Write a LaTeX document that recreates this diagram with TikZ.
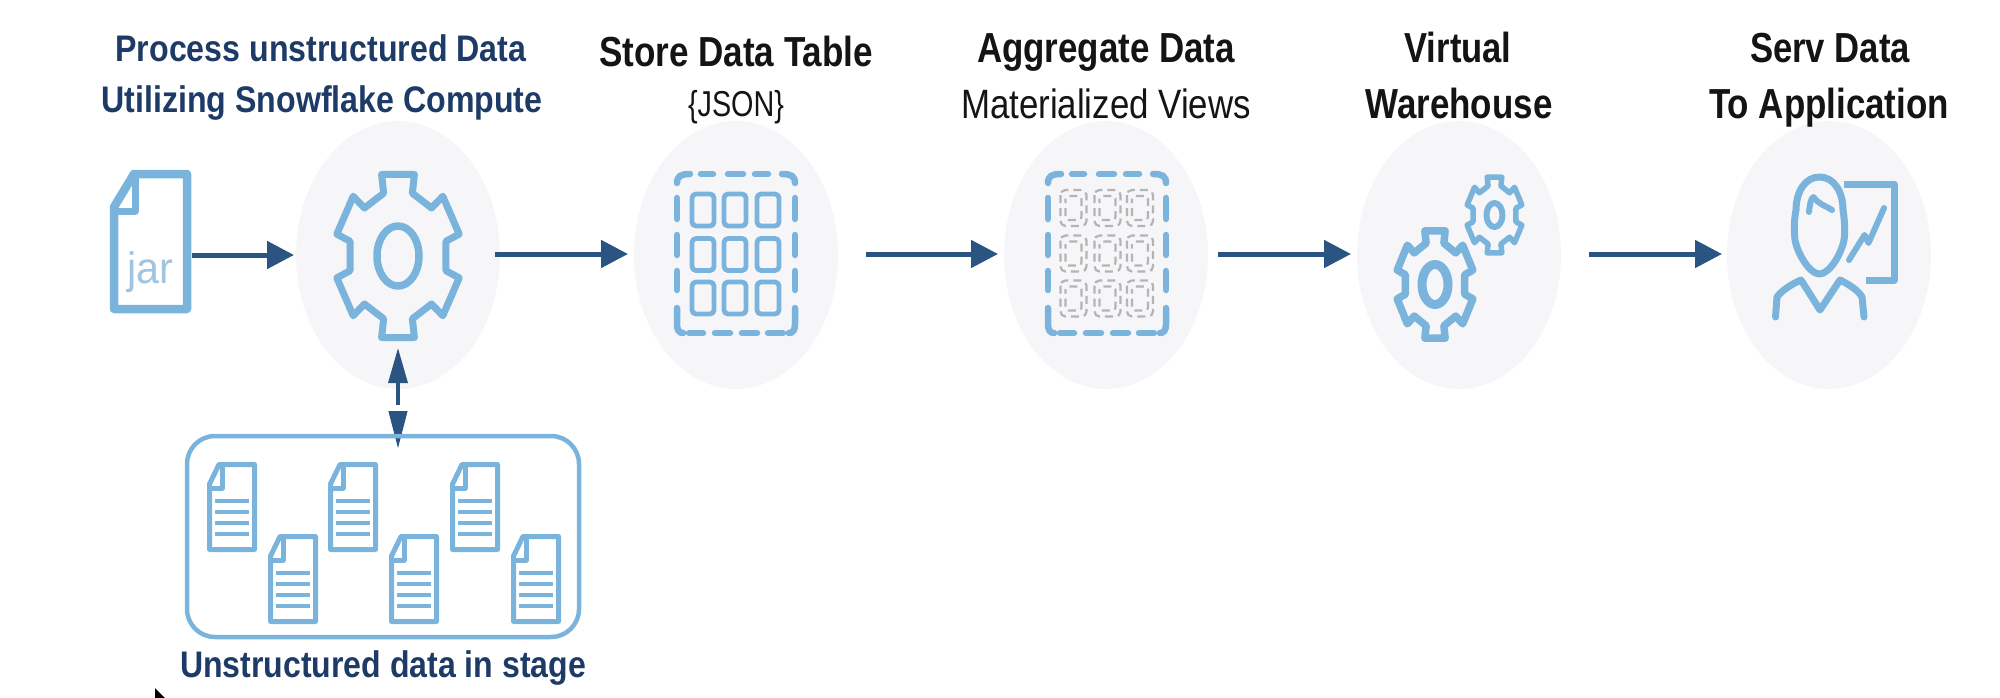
\documentclass[tikz,border=0pt]{standalone}
\usepackage{fontspec}
\usepackage{graphicx}
\usetikzlibrary{shapes.geometric,arrows.meta}
\setmainfont{Liberation Sans}
\definecolor{blobc}{HTML}{F6F6F8}
\definecolor{iconc}{HTML}{7AB4DC}
\definecolor{arrowc}{HTML}{2A5481}
\definecolor{navy}{HTML}{1D3B66}
\definecolor{inkc}{HTML}{141414}
\definecolor{jarc}{HTML}{A2C4DE}
\definecolor{cellc}{HTML}{B4B4B4}
\newsavebox{\fitbox}
\newcommand{\fitx}[2]{\sbox{\fitbox}{#2}\pgfmathsetmacro{\fitratio}{#1/\the\wd\fitbox}\scalebox{\fitratio}[1]{\usebox{\fitbox}}}
\tikzset{
  blob/.style={ellipse,fill=blobc,inner sep=0pt,outer sep=0pt,minimum width=204pt,minimum height=268pt},
  flow/.style={draw=arrowc,line width=5pt,-{Triangle[length=27pt,width=27pt]}},
  lbl/.style={anchor=base,inner sep=0pt,outer sep=0pt},
  headb/.style={lbl,text=inkc,font=\fontsize{42}{42}\selectfont\bfseries},
  headr/.style={lbl,text=inkc,font=\fontsize{41}{41}\selectfont},
  blue/.style={lbl,text=navy,font=\fontsize{37}{37}\selectfont\bfseries},
  iconline/.style={draw=iconc,line width=#1,line join=round},
  iconline/.default=5pt,
  ghost/.style={inner sep=0pt,outer sep=0pt},
  stagebox/.style={draw=iconc,line width=4.5pt,rounded corners=28pt,inner sep=0pt,outer sep=0pt,minimum width=392pt,minimum height=201pt},
  dashseg/.style={draw=iconc,line width=6.5pt,line cap=round},
  cellgrey/.style={draw=cellc,line width=2.2pt,rounded corners=5pt,dash pattern=on 8pt off 5pt}
}
\newcommand{\gearicon}[8]{%
  \draw[iconline=#7,shift={(#1,#2)},xscale=#3,yscale=#4] (73:.8)
    \foreach \a in {90,150,210,270,330,390}{ -- (\a-17:.8) -- (\a-15:1.03) -- (\a+15:1.03) -- (\a+17:.8)} -- cycle;
  \draw[iconline=#8] (#1,#2) ellipse[x radius=#5,y radius=#6];
}
\newcommand{\docicon}[2]{%
  \begin{scope}[shift={(#1,#2)}]
    \draw[iconline=5pt] (12,2.5) -- (47.5,2.5) -- (47.5,87.5) -- (2.5,87.5) -- (2.5,22) -- cycle;
    \draw[iconline=5pt] (15,2.5) -- (15,26) -- (2.5,26);
    \foreach \ly in {39,50,61,72}{\draw[draw=iconc,line width=3.6pt] (8,\ly) -- (42,\ly);}
  \end{scope}
}
\newcommand{\dashframe}[1]{%
  \begin{scope}[shift={(#1,0)}]
    \draw[dashseg] (677,183) .. controls (677,176) and (681,174) .. (690,174);
    \draw[dashseg] (782,174) .. controls (791,174) and (795,176) .. (795,183);
    \foreach \p/\q in {701/713,728/743,755/768}{\draw[dashseg] (\p,174) -- (\q,174);}
    \foreach \p/\q in {689/703,715/730,742/757,768/783}{\draw[dashseg] (\p,333) -- (\q,333);}
    \foreach \p/\q in {198/219,235/255,271/290}{\draw[dashseg] (677,\p) -- (677,\q); \draw[dashseg] (795,\p) -- (795,\q);}
    \draw[dashseg] (677,308) -- (677,324) .. controls (677,330) and (679,333) .. (683,333);
    \draw[dashseg] (795,308) -- (795,324) .. controls (795,330) and (793,333) .. (789,333);
  \end{scope}
}
\begin{document}
\begin{tikzpicture}[x=1pt,y=-1pt]
\useasboundingbox (0,0) rectangle (2000,698);

% background blobs
\node[blob] (b1) at (398,255) {};
\node[blob] (b2) at (736,255) {};
\node[blob] (b3) at (1106,255) {};
\node[blob] (b4) at (1459,255) {};
\node[blob] (b5) at (1829,255) {};

% headings
\node[blue] (t1) at (321,62) {\fitx{411}{Process unstructured Data}};
\node[blue] (t2) at (322,113) {\fitx{441}{Utilizing Snowflake Compute}};
\node[headb] (t3) at (736,67) {\fitx{274}{Store Data Table}};
\node[headr,font=\fontsize{36}{36}\selectfont] (t4) at (736,117) {\fitx{96}{\{JSON\}}};
\node[headb] (t5) at (1106,63) {\fitx{258}{Aggregate Data}};
\node[headr] (t6) at (1106,119) {\fitx{290}{Materialized Views}};
\node[headb] (t7) at (1458,63) {\fitx{107}{Virtual}};
\node[headb] (t8) at (1459,119) {\fitx{187}{Warehouse}};
\node[headb] (t9) at (1830,63) {\fitx{160}{Serv Data}};
\node[headb] (t10) at (1829,119) {\fitx{240}{To Application}};

% jar file
\node[ghost,minimum width=81pt,minimum height=143pt] (jar) at (151,241.5) {};
\draw[iconline=8.5pt] (134,174) -- (187,174) -- (187,309) -- (114,309) -- (114,207) -- cycle;
\draw[iconline=7pt] (135,174) -- (135,211) -- (114,211);
\node[lbl,text=jarc,font=\fontsize{44}{44}\selectfont] (jartxt) at (150,283) {\fitx{46}{jar}};

% gears
\gearicon{398}{256}{61.5}{82}{21}{30}{7pt}{7.5pt}
\gearicon{1435}{284.5}{38}{54}{13}{20}{7.5pt}{9pt}
\gearicon{1494.5}{215}{27.5}{38}{8}{12}{5.5pt}{6pt}

% table icon
\dashframe{0}
\foreach \cx in {703,735,768}\foreach \cy in {210,254.5,298}{
  \draw[iconline=4.8pt,rounded corners=4pt] (\cx-11,\cy-16) rectangle (\cx+11,\cy+16);
}

% materialized view icon
\dashframe{371}
\foreach \cx in {1073.5,1107.5,1140}\foreach \cy in {208,253.5,298.5}{
  \draw[cellgrey] (\cx-13,\cy-18) rectangle (\cx+13,\cy+18);
  \draw[cellgrey,dash phase=4pt,rounded corners=3pt] (\cx-8,\cy-12) rectangle (\cx+8,\cy+12);
}

% person icon
\draw[iconline=7pt] (1819.5,177) .. controls (1834,177) and (1843,192) .. (1843,210)
  .. controls (1845,222) and (1845,235) .. (1844,240)
  .. controls (1842,252) and (1830,274) .. (1819.5,274)
  .. controls (1809,274) and (1797,252) .. (1795,240)
  .. controls (1794,230) and (1794,220) .. (1796,210)
  .. controls (1796,192) and (1805,177) .. (1819.5,177) -- cycle;
\draw[iconline=6pt,line cap=round] (1809,212) .. controls (1810,203) and (1811,198) .. (1813.5,197) .. controls (1818,204) and (1826,206) .. (1832,210);
\draw[iconline=7pt,line cap=round] (1775.5,317) -- (1777,297) .. controls (1782,290) and (1792,284) .. (1801,280) -- (1820,310) -- (1840,280) .. controls (1848,284) and (1858,290) .. (1862,297) -- (1864,317);
\draw[iconline=7pt] (1844,184) -- (1894,184) -- (1894,280) -- (1866,280);
\draw[iconline=6pt,line cap=round] (1849,260) -- (1864.5,235) -- (1868.5,243) -- (1884,208);

% stage box contents
\docicon{207}{462}
\docicon{268}{534}
\docicon{328}{462}
\docicon{389}{534}
\docicon{450}{462}
\docicon{511}{534}

% connectors
\coordinate (upTip) at (398,348);
\coordinate (upEnd) at (398,405);
\coordinate (downStart) at (398,411);
\coordinate (downTip) at (398,448);
\draw[draw=arrowc,line width=3.5pt,-{Triangle[length=35pt,width=19pt]}] (upEnd) -- (upTip);
\draw[draw=arrowc,line width=1pt,-{Triangle[length=37pt,width=19pt]}] (downStart) -- (downTip);

\node[stagebox] (stage) at (383,536.5) {};
\node[blue] (t11) at (383,677) {\fitx{406}{Unstructured data in stage}};

\draw[flow,shorten >=2pt] (jar.east |- b1.west) -- (b1.west);
\draw[flow,shorten <=-5pt,shorten >=6pt] ([yshift=1pt]b1.east) -- ([yshift=1pt]b2.west);
\draw[flow,shorten <=28pt,shorten >=6pt] ([yshift=1pt]b2.east) -- ([yshift=1pt]b3.west);
\draw[flow,shorten <=10pt,shorten >=6pt] ([yshift=1pt]b3.east) -- ([yshift=1pt]b4.west);
\draw[flow,shorten <=28pt,shorten >=5pt] ([yshift=1pt]b4.east) -- ([yshift=1pt]b5.west);

% pointer remnant at the lower edge
\fill[black] (155,688) -- (165,698) -- (155,698) -- cycle;
\end{tikzpicture}
\end{document}
